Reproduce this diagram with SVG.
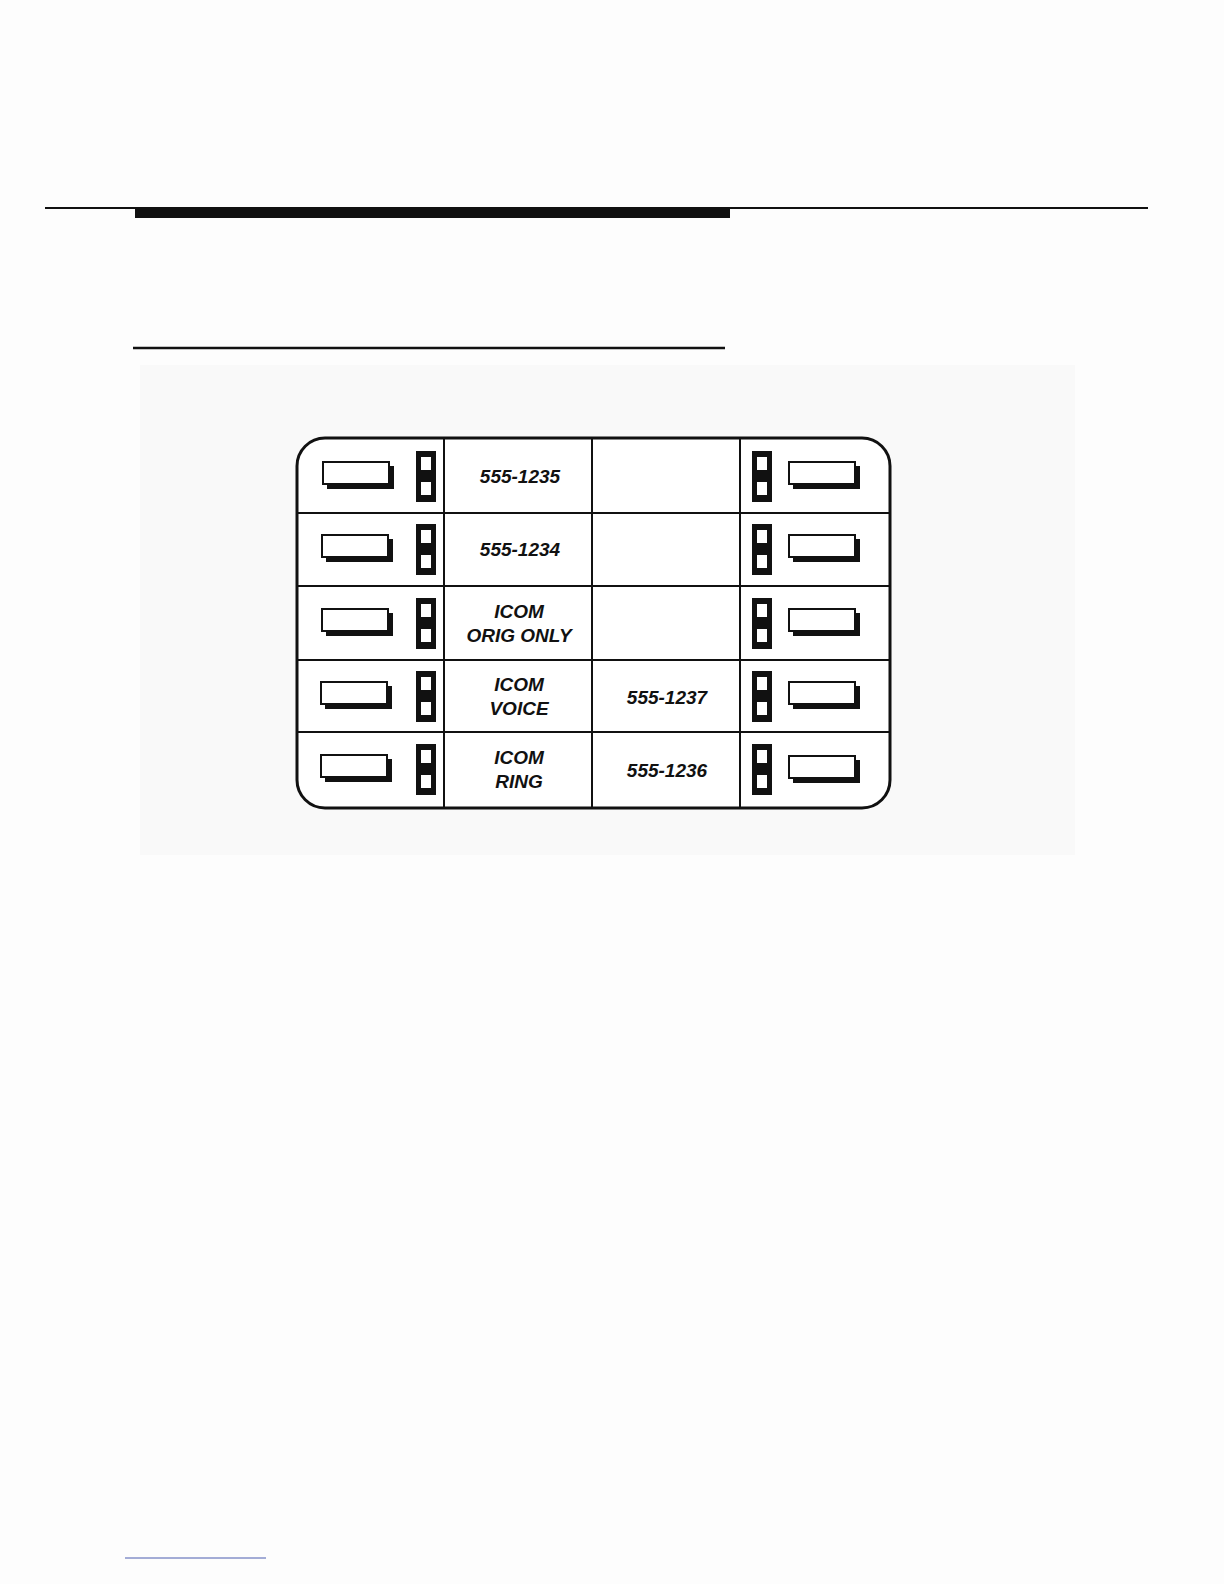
<svg xmlns="http://www.w3.org/2000/svg" width="1224" height="1584" viewBox="0 0 1224 1584">
<style>
.t{font-family:"Liberation Sans",Arial,sans-serif;font-style:italic;font-weight:bold;font-size:19px;text-anchor:middle;fill:#111}
.b{fill:#fff;stroke:#111;stroke-width:2}
.g{stroke:#111;stroke-width:2;fill:none}
</style>
<defs>
<g id="btn"><rect x="4" y="4" width="67" height="23" fill="#111"/><rect class="b" x="0" y="0" width="66" height="22"/></g>
<g id="led"><rect x="0" y="0" width="20" height="51" fill="#111"/><rect x="5" y="6" width="10" height="13" fill="#fff"/><rect x="5" y="31" width="10" height="13" fill="#fff"/></g>
</defs>
<rect width="1224" height="1584" fill="#fdfdfd"/>
<rect x="140" y="365" width="935" height="490" fill="#f9f9f9"/>
<line x1="45" y1="208" x2="1148" y2="208" stroke="#111" stroke-width="2"/>
<rect x="135" y="207" width="595" height="11" fill="#111"/>
<line x1="133" y1="348" x2="725" y2="348" stroke="#111" stroke-width="2.5"/>
<line x1="125" y1="1558" x2="266" y2="1558" stroke="#4a5db0" stroke-width="1"/>
<g id="card">
<rect x="297" y="438" width="593" height="370" rx="28" fill="#fff" stroke="#111" stroke-width="3"/>
<g id="connectors" class="g">
<line x1="444" y1="438" x2="444" y2="808"/><line x1="592" y1="438" x2="592" y2="808"/><line x1="740" y1="438" x2="740" y2="808"/>
<line x1="297" y1="513" x2="890" y2="513"/><line x1="297" y1="586" x2="890" y2="586"/><line x1="297" y1="660" x2="890" y2="660"/><line x1="297" y1="732" x2="890" y2="732"/>
</g>
</g>
<g id="row1"><use href="#btn" x="323" y="462"/><use href="#led" x="416" y="451"/><use href="#led" x="752" y="451"/><use href="#btn" x="789" y="462"/><text class="t" x="520" y="483">555-1235</text></g>
<g id="row2"><use href="#btn" x="322" y="535"/><use href="#led" x="416" y="524"/><use href="#led" x="752" y="524"/><use href="#btn" x="789" y="535"/><text class="t" x="520" y="556">555-1234</text></g>
<g id="row3"><use href="#btn" x="322" y="609"/><use href="#led" x="416" y="598"/><use href="#led" x="752" y="598"/><use href="#btn" x="789" y="609"/><text class="t" x="519" y="618">ICOM</text><text class="t" x="519" y="642">ORIG ONLY</text></g>
<g id="row4"><use href="#btn" x="321" y="682"/><use href="#led" x="416" y="671"/><use href="#led" x="752" y="671"/><use href="#btn" x="789" y="682"/><text class="t" x="519" y="691">ICOM</text><text class="t" x="519" y="715">VOICE</text><text class="t" x="667" y="704">555-1237</text></g>
<g id="row5"><use href="#btn" x="321" y="755"/><use href="#led" x="416" y="744"/><use href="#led" x="752" y="744"/><use href="#btn" x="789" y="756"/><text class="t" x="519" y="764">ICOM</text><text class="t" x="519" y="788">RING</text><text class="t" x="667" y="777">555-1236</text></g>
</svg>
